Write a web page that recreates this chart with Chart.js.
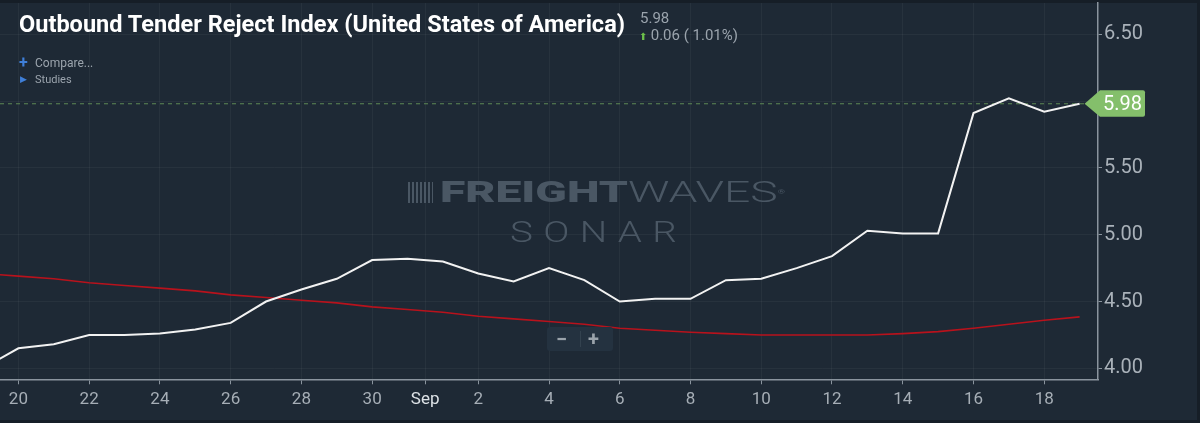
<!DOCTYPE html>
<html><head><meta charset="utf-8">
<script src="https://cdn.jsdelivr.net/npm/chart.js@4.4.0/dist/chart.umd.min.js"></script>
<style>
html,body{margin:0;padding:0;background:#1e2935;}
#wrap{position:relative;width:1200px;height:423px;overflow:hidden;background:#1e2935;}
#c{position:absolute;left:0;top:0;width:1200px;height:423px;}
.t{position:absolute;white-space:nowrap;transform-origin:0 0;font-family:Roboto,sans-serif;}
#btn{position:absolute;left:547px;top:327px;width:66px;height:24px;background:#243240;border-radius:3px;}
</style></head><body>
<div id="wrap">
<canvas id="c" width="1200" height="423"></canvas>
<div class="t" id="title" style="left:19px;top:12px;font-weight:700;font-size:24px;line-height:24px;color:#ffffff;">Outbound Tender Reject Index (United States of America)</div>
<div class="t" style="left:640px;top:11px;font-size:15px;line-height:15px;color:#9ba4ad;">5.98</div>
<div class="t" style="left:639px;top:28px;font-size:15px;line-height:15px;color:#9ba4ad;"><span style="color:#6cc04a;font-size:10px;">&#11014;</span> 0.06 ( 1.01%)</div>
<div class="t" style="left:19px;top:55px;font-size:16px;line-height:16px;color:#3f7fd8;font-weight:700;">+</div>
<div class="t" style="left:35px;top:56px;font-size:12px;line-height:14px;color:#9ba4ad;">Compare...</div>
<div class="t" style="left:20px;top:74px;font-size:9px;line-height:11px;color:#3f7fd8;">&#9654;</div>
<div class="t" style="left:35px;top:74px;font-size:11px;line-height:12px;color:#9ba4ad;">Studies</div>
<div class="t" id="wmIcon" style="left:408px;top:182px;width:25px;height:21px;background:repeating-linear-gradient(90deg,#4a5764 0 2px,transparent 2px 4px);"></div>
<div class="t" id="wm1" style="left:440px;top:177px;font-size:30px;line-height:30px;color:#4a5764;"><span style="font-weight:900;">FREIGHT</span><span style="font-weight:300;">WAVES</span><span style="font-size:6px;vertical-align:top;">&#174;</span></div>
<div class="t" id="wm2" style="left:510px;top:217px;font-size:30px;line-height:30px;font-weight:300;letter-spacing:8px;color:#4a5764;">SONAR</div>
<div id="btn"></div>
<div class="t" style="left:556px;top:328px;font-size:20px;line-height:22px;font-weight:700;color:#9aa3ab;">&#8722;</div>
<div style="position:absolute;left:580px;top:331px;width:1px;height:16px;background:#33424f;"></div>
<div class="t" style="left:588px;top:328px;font-size:20px;line-height:22px;font-weight:700;color:#9aa3ab;">+</div>
</div>
<script>
// ---- data ----
const days = ['Aug 19','Aug 20','Aug 21','Aug 22','Aug 23','Aug 24','Aug 25','Aug 26','Aug 27','Aug 28','Aug 29','Aug 30','Aug 31',
  'Sep 1','Sep 2','Sep 3','Sep 4','Sep 5','Sep 6','Sep 7','Sep 8','Sep 9','Sep 10','Sep 11','Sep 12','Sep 13','Sep 14','Sep 15','Sep 16','Sep 17','Sep 18','Sep 19'];
const otri = [4.00,4.15,4.18,4.25,4.25,4.26,4.29,4.34,4.50,4.59,4.67,4.81,4.82,
  4.80,4.71,4.65,4.75,4.66,4.50,4.52,4.52,4.66,4.67,4.75,4.84,5.03,5.01,5.01,5.91,6.02,5.92,5.98];
const movingAvg = [4.71,4.69,4.67,4.64,4.62,4.60,4.58,4.55,4.53,4.51,4.49,4.46,4.44,
  4.42,4.39,4.37,4.35,4.33,4.30,4.285,4.27,4.26,4.25,4.25,4.25,4.25,4.26,4.275,4.30,4.33,4.36,4.385];
// x ticks (day offset from Aug 20) and their labels
const xTickPos = [0,2,4,6,8,10,11.5,13,15,17,19,21,23,25,27,29];
const xTickLabels = ['20','22','24','26','28','30','Sep','2','4','6','8','10','12','14','16','18'];
const yTicks = [4.00,4.50,5.00,5.50,6.00,6.50];
const lastValue = 5.98;

// fit title / watermark widths
function fit(id, w){const e=document.getElementById(id);const a=e.getBoundingClientRect().width;e.style.transform='scaleX('+(w/a)+')';}
fit('title',606); fit('wm1',345); fit('wm2',177);

const toPts = arr => arr.map((v,i)=>({x:i-1,y:v}));

const bgPlugin = {id:'bg', beforeDraw(ch){const c=ch.ctx;c.save();c.fillStyle='#1e2935';c.fillRect(0,0,1200,423);
  c.fillStyle='#161e27';c.fillRect(0,0,1200,3);c.fillRect(0,420,1200,3);c.fillRect(1197,0,3,423);c.restore();}};
const lastPlugin = {id:'last',
  beforeDatasetsDraw(ch){const c=ch.ctx,y=ch.scales.y.getPixelForValue(lastValue),a=ch.chartArea;
    c.save();c.strokeStyle='#5e8a55';c.lineWidth=1;c.setLineDash([4,4]);c.beginPath();c.moveTo(a.left,y);c.lineTo(a.right,y);c.stroke();c.restore();},
  afterDraw(ch){const c=ch.ctx,y=ch.scales.y.getPixelForValue(lastValue),a=ch.chartArea;
    const tip=ch.scales.x.getPixelForValue(30)+5, l=a.right+2, r=1145, t=y-13.5, b=y+13;
    c.save();c.fillStyle='#84bf6b';c.beginPath();c.moveTo(tip,y);c.lineTo(l,t);c.lineTo(r-2,t);c.quadraticCurveTo(r,t,r,t+2);
    c.lineTo(r,b-2);c.quadraticCurveTo(r,b,r-2,b);c.lineTo(l,b);c.closePath();c.fill();
    c.fillStyle='#ffffff';c.font='20px Roboto';c.textBaseline='middle';c.textAlign='left';c.fillText(lastValue.toFixed(2),l+3,y+1);c.restore();}};

new Chart(document.getElementById('c'),{
  type:'line',
  data:{datasets:[
    {label:'OTRI',data:toPts(otri),borderColor:'#f2f2f2',borderWidth:2,pointRadius:0,tension:0},
    {label:'Average',data:toPts(movingAvg),borderColor:'#b8121c',borderWidth:1.6,pointRadius:0,tension:0}
  ]},
  options:{
    responsive:false,animation:false,devicePixelRatio:1,
    layout:{padding:{top:3,left:0,right:0,bottom:0}},
    plugins:{legend:{display:false},tooltip:{enabled:false}},
    scales:{
      x:{type:'linear',min:-0.52,max:30.52,
        afterBuildTicks:s=>{s.ticks=xTickPos.map(v=>({value:v}));},
        afterFit:s=>{s.height=43.7;s.paddingLeft=0;s.paddingRight=0;},
        grid:{color:'rgba(255,255,255,0.045)',tickColor:'#8a949e',tickLength:5,lineWidth:1},
        border:{color:'#8a949e',width:1.5},
        ticks:{autoSkip:false,maxRotation:0,padding:5,font:{family:'Roboto',size:17},
          color:c=>c.tick&&c.tick.value===11.5?'#dde2e6':'#a6aeb6',
          callback:v=>{const i=xTickPos.indexOf(v);return i>=0?xTickLabels[i]:'';}}
      },
      y:{position:'right',min:3.918,max:6.734,
        afterBuildTicks:s=>{s.ticks=yTicks.map(v=>({value:v}));},
        afterFit:s=>{s.width=102;s.paddingTop=0;s.paddingBottom=0;},
        grid:{color:'rgba(255,255,255,0.045)',tickColor:'#8a949e',tickLength:4,lineWidth:1},
        border:{color:'#8a949e',width:1.5},
        ticks:{padding:2,font:{family:'Roboto',size:20},color:'#a9b1b9',
          callback:v=>v.toFixed(2)}
      }
    }
  },
  plugins:[bgPlugin,lastPlugin]
});
</script>
</body></html>
